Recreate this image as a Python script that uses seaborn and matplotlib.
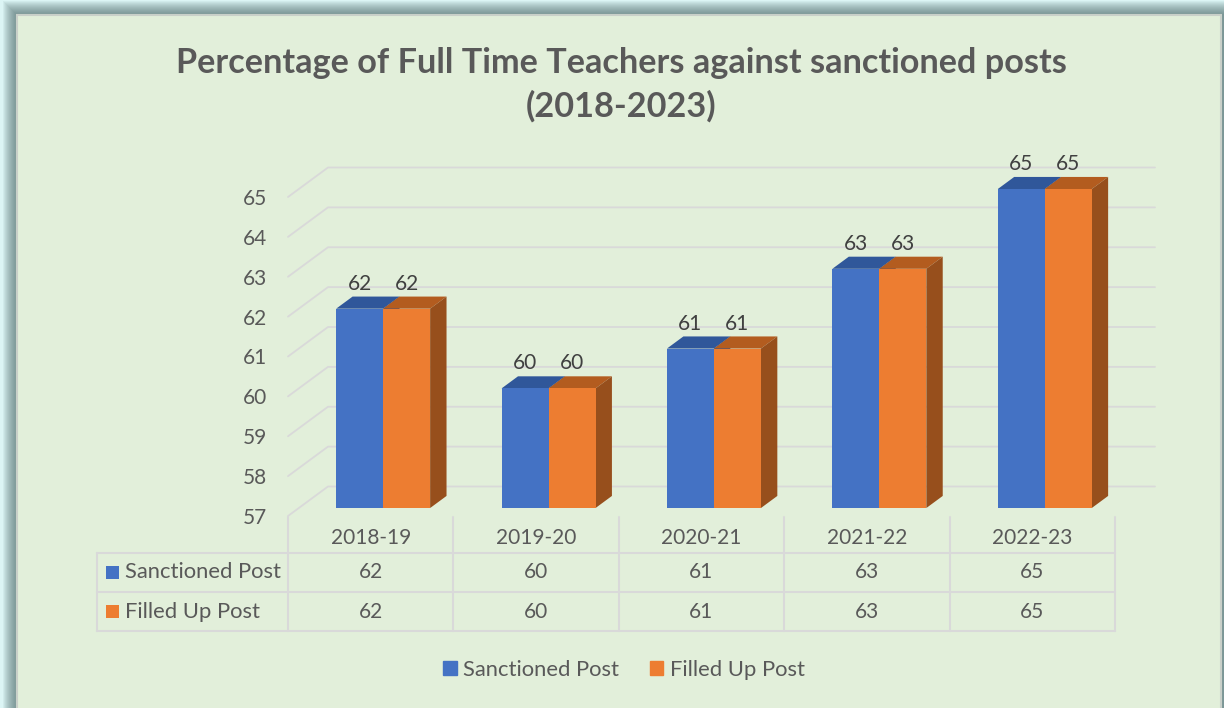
import numpy as np
import matplotlib
matplotlib.use("Agg")
import matplotlib.pyplot as plt
from matplotlib.patches import Polygon, Rectangle, Patch
import seaborn as sns

years = ["2018-19", "2019-20", "2020-21", "2021-22", "2022-23"]
sanctioned = [62, 60, 61, 63, 65]
filled = [62, 60, 61, 63, 65]
series_names = ["Sanctioned Post", "Filled Up Post"]
y_ticks = list(range(57, 66))

sns.set_theme(style="white")
plt.rcParams["font.family"] = ["Lato", "DejaVu Sans"]

W, H = 1224, 708
fig = plt.figure(figsize=(W / 100, H / 100), dpi=100)
fig.patch.set_facecolor("#dcf5f5")

NUM_FS = 15
TXT_FS = 15.8

# background layer in pixel coordinates (frame, shadow, table grid)
bg = fig.add_axes([0, 0, 1, 1], zorder=0)
bg.set_xlim(0, W)
bg.set_ylim(H, 0)
bg.axis("off")
for k in range(14, 0, -1):
    bg.add_patch(Rectangle((17 - k, 15 - k), W + 40, H + 40,
                           facecolor="#4d6a6a", alpha=0.07, lw=0))
bg.add_patch(Rectangle((17, 15), 1204, 740, facecolor="#e2efda",
                       edgecolor="#c9d0c9", lw=1.5))

# plot area = front plane of the 3d box
ax = fig.add_axes([288 / W, 1 - 516 / H, 827 / W, 319 / H], zorder=1)
ax.set_xlim(-0.5, 4.5)
ax.set_ylim(y_ticks[0], y_ticks[-1])
ax.patch.set_alpha(0)
for s in ax.spines.values():
    s.set_visible(False)
ax.grid(False)

DX = 40 / 165.4      # depth shift in category units
DY = 29.5 / 39.875   # depth shift in value units
d0, d1 = 0.27, 0.68  # front / back depth of the bars
base = y_ticks[0]

for v in y_ticks:
    ax.plot([-0.5, -0.5 + DX, 4.5 + DX], [v, v + DY, v + DY], color="#d9d9d9",
            lw=1.3, clip_on=False, zorder=1)

x = np.arange(len(years))
w = 0.284
styles = [("#4472c4", "#30579a", "#2f528f"),
          ("#ed7d31", "#b35c1f", "#974f1c")]

for j, vals in enumerate([sanctioned, filled]):
    front, top, side = styles[j]
    vals = np.array(vals)
    xl = x + (j - 1) * w + 0.01
    z = 2 + 2 * j
    for x0, v in zip(xl, vals):
        x1 = x0 + w
        ax.add_patch(Polygon([(x0 + d0 * DX, v + d0 * DY), (x1 + d0 * DX, v + d0 * DY),
                              (x1 + d1 * DX, v + d1 * DY), (x0 + d1 * DX, v + d1 * DY)],
                             closed=True, facecolor=top, lw=0, zorder=z, clip_on=False))
        ax.add_patch(Polygon([(x1 + d0 * DX, base + d0 * DY), (x1 + d1 * DX, base + d1 * DY),
                              (x1 + d1 * DX, v + d1 * DY), (x1 + d0 * DX, v + d0 * DY)],
                             closed=True, facecolor=side, lw=0, zorder=z, clip_on=False))
    ax.bar(xl + d0 * DX, vals - base, width=w, bottom=base + d0 * DY, align="edge",
           color=front, lw=0, zorder=z + 1, clip_on=False)
    for x0, v in zip(xl, vals):
        ax.annotate(str(v), xy=(x0 + w / 2 + d0 * DX, v + d0 * DY), xytext=(0, 18),
                    textcoords="offset points", ha="center", va="center",
                    fontsize=NUM_FS, color="#404040", zorder=6,
                    annotation_clip=False)

ax.set_yticks(y_ticks)
ax.set_xticks(x, years)
ax.tick_params(axis="y", length=0, pad=15, labelsize=NUM_FS, labelcolor="#595959")
ax.tick_params(axis="x", length=0, pad=9, labelsize=NUM_FS, labelcolor="#595959")

# data table under the axis
col_edges = [288 + 165.4 * i for i in range(len(years) + 1)]
grid_c = "#d9d9d9"
for cx in col_edges:
    bg.plot([cx, cx], [517, 631], color=grid_c, lw=1.5)
bg.plot([97, 97], [553, 631], color=grid_c, lw=1.5)
for ry in [553, 592, 631]:
    bg.plot([97, col_edges[-1]], [ry, ry], color=grid_c, lw=1.5)

row_centers = [572.5, 611.5]
for j, vals in enumerate([sanctioned, filled]):
    yc = row_centers[j]
    bg.add_patch(Rectangle((106, yc - 6.5), 13, 13, facecolor=styles[j][0], lw=0))
    bg.text(125, yc, series_names[j], ha="left", va="center", fontsize=TXT_FS,
            color="#595959")
    for i, v in enumerate(vals):
        bg.text((col_edges[i] + col_edges[i + 1]) / 2, yc, str(v), ha="center",
                va="center", fontsize=NUM_FS, color="#595959")

fig.legend(handles=[Patch(color=styles[0][0]), Patch(color=styles[1][0])],
           labels=series_names, loc="center", bbox_to_anchor=(624 / W, 1 - 670 / H),
           ncol=2, frameon=False, fontsize=TXT_FS, handlelength=0.6, handleheight=0.6,
           handletextpad=0.3, columnspacing=1.4, labelcolor="#595959")

fig.text(621 / W, 1 - 63 / H, "Percentage of Full Time Teachers against sanctioned posts",
         ha="center", va="center", fontsize=24.7, fontweight="bold", color="#595959")
fig.text(621 / W, 1 - 106 / H, "(2018-2023)", ha="center", va="center",
         fontsize=24.7, fontweight="bold", color="#595959")

fig.savefig("out.png", dpi=100, facecolor=fig.get_facecolor())
